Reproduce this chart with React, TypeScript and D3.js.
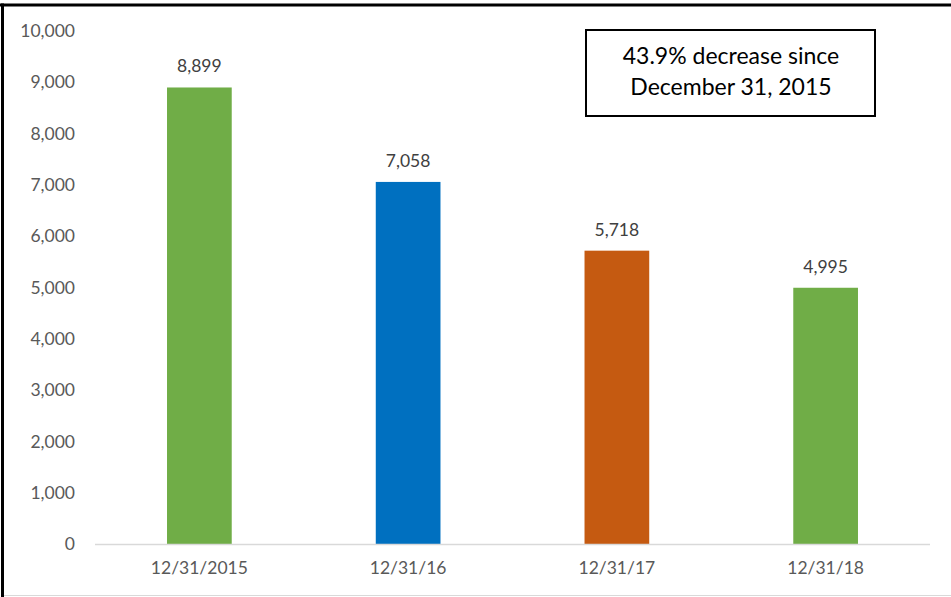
import React from 'react';
import * as d3 from 'd3';

const categories = ['12/31/2015', '12/31/16', '12/31/17', '12/31/18'];
const values = [8899, 7058, 5718, 4995];
const barColors = ['#70AD47', '#0070C0', '#C55A11', '#70AD47'];
const yTicks = [0, 1000, 2000, 3000, 4000, 5000, 6000, 7000, 8000, 9000, 10000];
const noteLines = ['43.9% decrease since', 'December 31, 2015'];

const width = 951;
const height = 597;
const margin = { top: 31, right: 21, bottom: 53, left: 95 };

const App: React.FC = () => {
  const x = d3.scaleBand<string>()
    .domain(categories)
    .range([margin.left, width - margin.right])
    .paddingInner(0.69)
    .paddingOuter(0.345);

  const y = d3.scaleLinear()
    .domain([0, 10000])
    .range([height - margin.bottom, margin.top]);

  const fmt = d3.format(',');
  const font = 'Lato, "Open Sans", sans-serif';

  return (
    <svg
      width={width}
      height={height}
      style={{ position: 'absolute', left: 0, top: 0, background: '#fff' }}
      fontFamily={font}
    >
      <rect x={0} y={0} width={width} height={height} fill="#fff" />

      {/* outer frame */}
      <line x1={0} x2={width} y1={5} y2={5} stroke="#000" strokeWidth={3} />
      <line x1={2.5} x2={2.5} y1={3.5} y2={height} stroke="#000" strokeWidth={3} />
      <line x1={4} x2={width} y1={595.5} y2={595.5} stroke="#d9d9d9" strokeWidth={1} />

      {/* y tick labels */}
      {yTicks.map(t => (
        <text
          key={t}
          x={75}
          y={y(t)}
          dy="0.35em"
          textAnchor="end"
          fontSize={17.5}
          fill="#595959"
        >
          {fmt(t)}
        </text>
      ))}

      {/* bars */}
      {values.map((v, i) => (
        <rect
          key={categories[i]}
          x={x(categories[i])}
          y={y(v)}
          width={x.bandwidth()}
          height={y(0) - y(v)}
          fill={barColors[i]}
        />
      ))}

      {/* data labels */}
      {values.map((v, i) => (
        <text
          key={'l' + i}
          x={(x(categories[i]) || 0) + x.bandwidth() / 2}
          y={y(v) - 15}
          textAnchor="middle"
          fontSize={17.5}
          fill="#404040"
        >
          {fmt(v)}
        </text>
      ))}

      {/* x axis */}
      <line
        x1={margin.left}
        x2={width - margin.right}
        y1={y(0) + 0.5}
        y2={y(0) + 0.5}
        stroke="#d9d9d9"
        strokeWidth={1.5}
      />
      {categories.map(c => (
        <text
          key={c}
          x={(x(c) || 0) + x.bandwidth() / 2}
          y={y(0) + 30}
          textAnchor="middle"
          fontSize={17.5}
          fill="#595959"
        >
          {c}
        </text>
      ))}

      {/* note box */}
      <rect x={586} y={30} width={289} height={86} fill="#fff" stroke="#000" strokeWidth={2} />
      {noteLines.map((line, i) => (
        <text
          key={line}
          x={731}
          y={64 + i * 31}
          textAnchor="middle"
          fontSize={23}
          fill="#000"
        >
          {line}
        </text>
      ))}
    </svg>
  );
};

export default App;
